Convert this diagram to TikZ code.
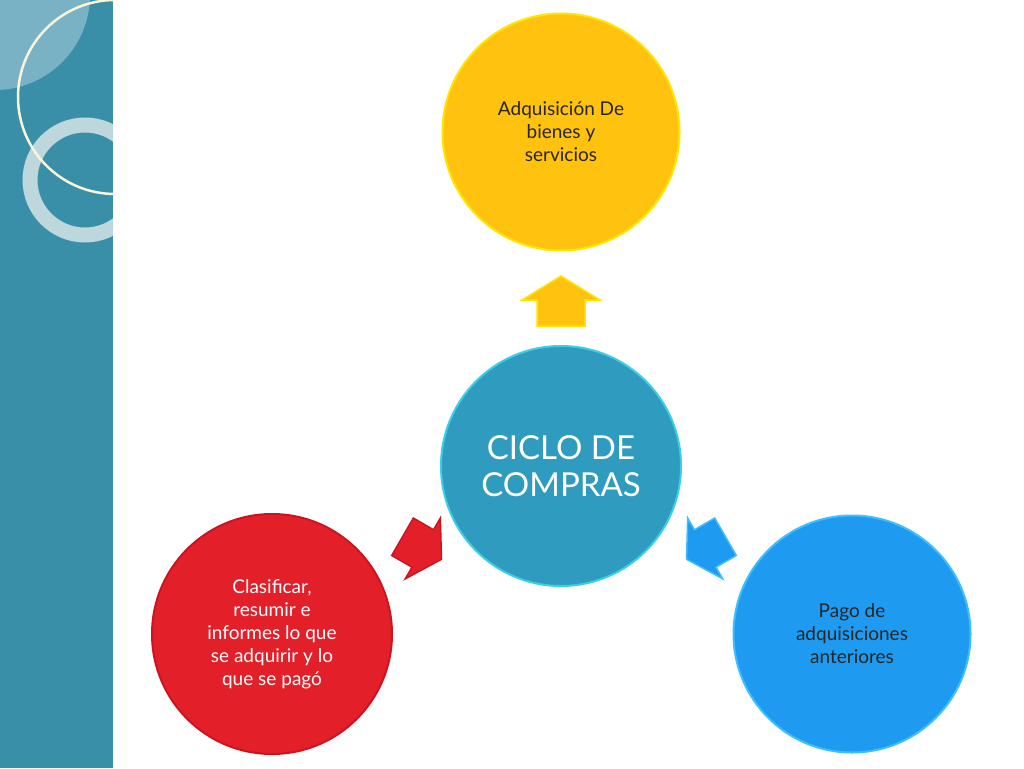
\documentclass[tikz,border=0pt]{standalone}
\usepackage{fontspec}
\setmainfont{Lato}
\begin{document}
\begin{tikzpicture}[x=1pt,y=-1pt,
  bub/.style={circle,minimum size=#1,inner sep=0pt,align=center,line width=2pt},
  small/.style={font=\fontsize{19}{23}\selectfont},
  arr/.style={line width=1.5pt}]
\useasboundingbox (0,0) rectangle (1024,768);
\fill[white] (0,0) rectangle (1024,768);
% left panel
\begin{scope}
\clip (0,0) rectangle (113,768);
\fill[color={rgb,255:red,58;green,143;blue,168}] (0,0) rectangle (113,768);
\fill[color={rgb,255:red,120;green,178;blue,196}] (-5,-5) circle[radius=95];
\draw[color={rgb,255:red,190;green,215;blue,220},line width=15pt] (85,180) circle[radius=55];
\draw[color={rgb,255:red,250;green,245;blue,215},line width=2.5pt] (115,97) circle[radius=97];
\end{scope}
\definecolor{yel}{RGB}{255,194,14}\definecolor{yelb}{RGB}{255,230,0}
\definecolor{cen}{RGB}{46,155,191}\definecolor{cenb}{RGB}{60,205,235}
\definecolor{red1}{RGB}{227,32,42}\definecolor{redb}{RGB}{205,20,30}
\definecolor{blu}{RGB}{30,155,240}\definecolor{blub}{RGB}{60,190,255}
\node[bub=240,fill=cen,draw=cenb,text=white,font=\fontsize{33}{37}\selectfont] (c) at (561,466) {CICLO DE\\COMPRAS};
\node[bub=237,fill=yel,draw=yelb,small,text=black!85] (y) at (561,132) {Adquisición De\\bienes y\\servicios};
\node[bub=240,fill=red1,draw=redb,small,text=white] (r) at (272,634) {Clasificar,\\resumir e\\informes lo que\\se adquirir y lo\\que se pagó};
\node[bub=237,fill=blu,draw=blub,small,text=black!85] (b) at (852,634) {Pago de\\adquisiciones\\anteriores};
\def\arrowshape{(0,-25) -- (39,-1) -- (24,-1) -- (24,25) -- (-24,25) -- (-24,-1) -- (-39,-1) -- cycle}
\coordinate (ay) at (561,301);
\coordinate (ar) at (422,548);
\coordinate (ab) at (706,548);
\draw[arr,fill=yel,draw=yelb,shift={(ay)}] \arrowshape;
\draw[arr,fill=red1,draw=redb,shift={(ar)},rotate=-120,scale=0.9] \arrowshape;
\draw[arr,fill=blu,draw=blub,shift={(ab)},rotate=120,scale=0.9] \arrowshape;
\end{tikzpicture}
\end{document}
